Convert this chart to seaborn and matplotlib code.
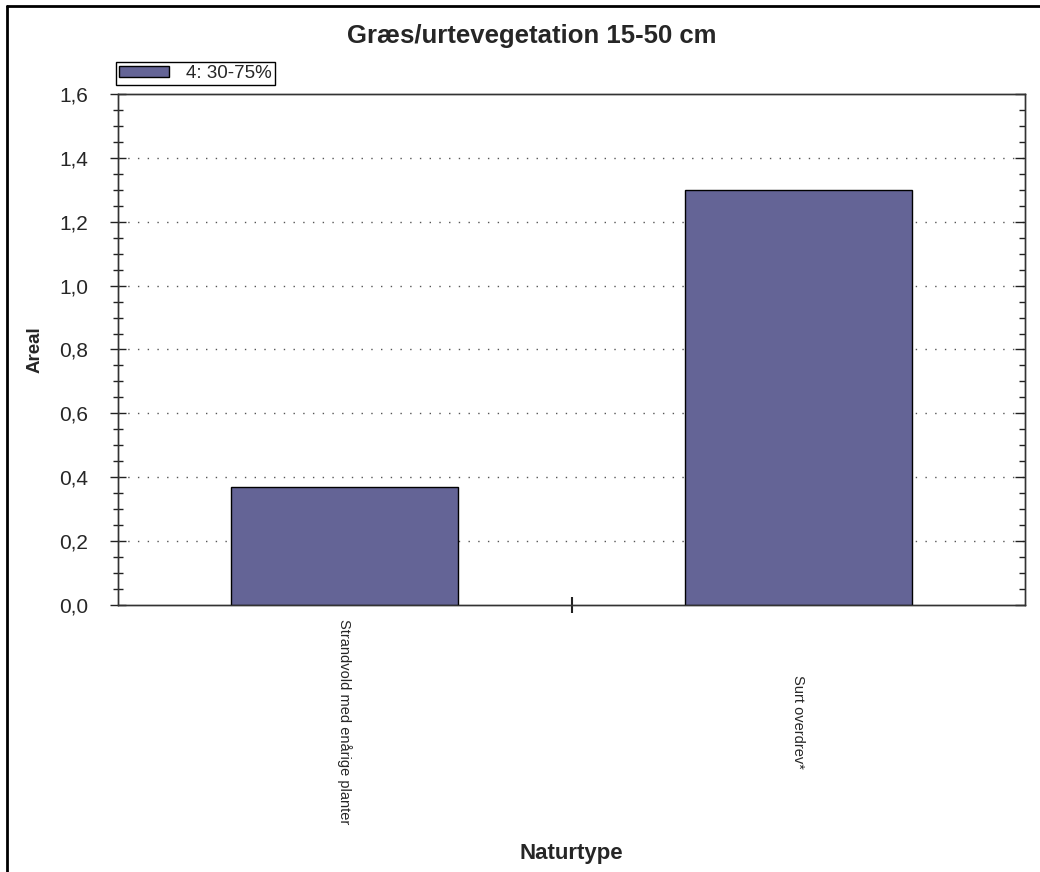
import pandas as pd
import matplotlib
matplotlib.use('Agg')
import matplotlib.pyplot as plt
import matplotlib.ticker as mticker
from matplotlib.lines import Line2D
import seaborn as sns

# Data
naturtyper = ['Strandvold med enårige planter', 'Surt overdrev*']
areal = [0.37, 1.30]
serie = '4: 30-75%'
yticks = [0.0, 0.2, 0.4, 0.6, 0.8, 1.0, 1.2, 1.4, 1.6]

df = pd.DataFrame({'Naturtype': naturtyper, 'Areal': areal})

sns.set_style('white')
plt.rcParams['font.family'] = ['Liberation Sans', 'DejaVu Sans']

fig = plt.figure(figsize=(10.4, 8.72), dpi=100)
ax = fig.add_axes([0.1135, 0.3062, 0.8721, 0.586])

sns.barplot(data=df, x='Naturtype', y='Areal', color='#646496', saturation=1,
            edgecolor='black', linewidth=1, width=0.5, label=serie, ax=ax, zorder=3)

ax.set_xlim(-0.5, 1.5)
ax.set_ylim(0, 1.6)
ax.set_yticks(yticks)
fmt = mticker.FuncFormatter(lambda v, p: f'{v:.1f}'.replace('.', ','))
ax.yaxis.set_major_formatter(fmt)
ax.yaxis.set_minor_locator(mticker.MultipleLocator(0.05))
ax.set_xticks([0.5], minor=False)
ax.set_xticks([0, 1], minor=True)
ax.set_xticklabels([''])
ax.set_xticklabels(naturtyper, minor=True, rotation=-90, fontsize=10.5)
for lab in ax.get_xticklabels(minor=True):
    lab.set_va('center')
    lab.set_ha('center')

ax.tick_params(axis='y', which='major', direction='inout', length=11, width=1,
               left=True, right=False, labelsize=15, color='#222222', pad=16)
ax.tick_params(axis='y', which='minor', direction='inout', length=7, width=1,
               left=True, right=False, color='#222222')
ax.tick_params(axis='x', which='major', direction='inout', length=11, width=1.5,
               bottom=True, color='#222222')
ax.tick_params(axis='x', which='minor', length=0, pad=84)

# ticks on the right side point inwards
ax2 = ax.twinx()
ax2.set_ylim(0, 1.6)
ax2.set_yticks(yticks)
ax2.yaxis.set_minor_locator(mticker.MultipleLocator(0.05))
ax2.tick_params(axis='y', which='major', direction='in', length=7, width=1,
                right=True, labelright=False, color='#222222')
ax2.tick_params(axis='y', which='minor', direction='in', length=4, width=1,
                right=True, color='#222222')
ax2.grid(False)

for a in (ax, ax2):
    for s in a.spines.values():
        s.set_color('#333333')
        s.set_linewidth(1)
        s.set_visible(True)

for v in yticks[1:-1]:
    ax.axhline(v, color='#555555', linestyle=(0, (1, 6)), linewidth=1, zorder=1)

fig.text(532 / 1040, 1 - 36 / 872, 'Græs/urtevegetation 15-50 cm', fontsize=18.5,
         fontweight='bold', ha='center', va='center')
ax.set_ylabel('Areal', fontsize=13.5, fontweight='bold', labelpad=0)
ax.yaxis.set_label_coords(-0.082, 0.5)
ax.set_xlabel('Naturtype', fontsize=16, fontweight='bold', labelpad=0)
ax.xaxis.set_label_coords(0.5, -0.465)

leg = ax.legend(loc='lower left', bbox_to_anchor=(116 / 1040, 1 - 85 / 872),
                bbox_transform=fig.transFigure, fancybox=False, framealpha=1,
                edgecolor='black', fontsize=13.5, borderpad=0.15, handlelength=2.7,
                handleheight=0.55, handletextpad=0.9, borderaxespad=0)
leg.get_frame().set_linewidth(1)

# frame round the picture: only the left and top edges show
fig.lines.append(Line2D([7 / 1040, 7 / 1040], [0, 1 - 6 / 872], transform=fig.transFigure,
                        color='black', linewidth=2))
fig.lines.append(Line2D([7 / 1040, 1], [1 - 6 / 872, 1 - 6 / 872], transform=fig.transFigure,
                        color='black', linewidth=2))

fig.savefig('out.png', dpi=100)
